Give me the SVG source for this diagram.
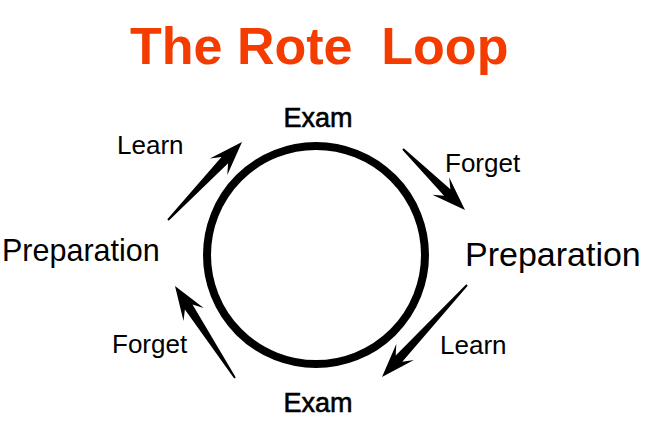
<svg xmlns="http://www.w3.org/2000/svg" width="647" height="435" viewBox="0 0 647 435">
<style>
.t{font-family:"Liberation Sans",Arial,sans-serif;fill:#000}
.title{font-family:"Liberation Sans",Arial,sans-serif;fill:#F43C00;font-size:52px;font-weight:bold}
.ex{font-size:27px;stroke:#000;stroke-width:0.6}
.lb{font-size:26px}
.arr{fill:#000}
</style>
<rect width="647" height="435" fill="#fff"/>
<text class="title" x="130" y="64" xml:space="preserve">The Rote  Loop</text>
<g id="loop"><circle cx="316" cy="255" r="109" fill="none" stroke="#000" stroke-width="8"/></g>
<g id="exam-top"><text class="t ex" x="318" y="127" text-anchor="middle">Exam</text></g>
<g id="exam-bottom"><text class="t ex" x="318" y="412" text-anchor="middle">Exam</text></g>
<g id="prep-left"><text class="t" x="2" y="261" style="font-size:30.5px">Preparation</text></g>
<g id="prep-right"><text class="t" x="465" y="266" style="font-size:34px">Preparation</text></g>
<g id="connectors">
<polygon class="arr" points="167.3,219.3 221.5,157.1 209.9,158.4 242,142 227.3,175.0 228.1,163.3 168.7,220.7"/>
<polygon class="arr" points="403.7,148.3 450.4,189.3 449.2,177.6 465,210 432.4,194.8 444.0,195.7 402.3,149.7"/>
<polygon class="arr" points="467.7,285.7 402.3,361.7 413.9,360.1 382,377 396.3,343.9 395.7,355.5 466.3,284.3"/>
<polygon class="arr" points="234.2,378.5 184.9,309.5 183.5,321.1 175,286 203.7,308.0 192.5,304.5 235.8,377.5"/>
<text class="t lb" x="117" y="154">Learn</text>
<text class="t lb" x="445" y="172">Forget</text>
<text class="t lb" x="440" y="354">Learn</text>
<text class="t lb" x="112" y="353">Forget</text>
</g>
</svg>
